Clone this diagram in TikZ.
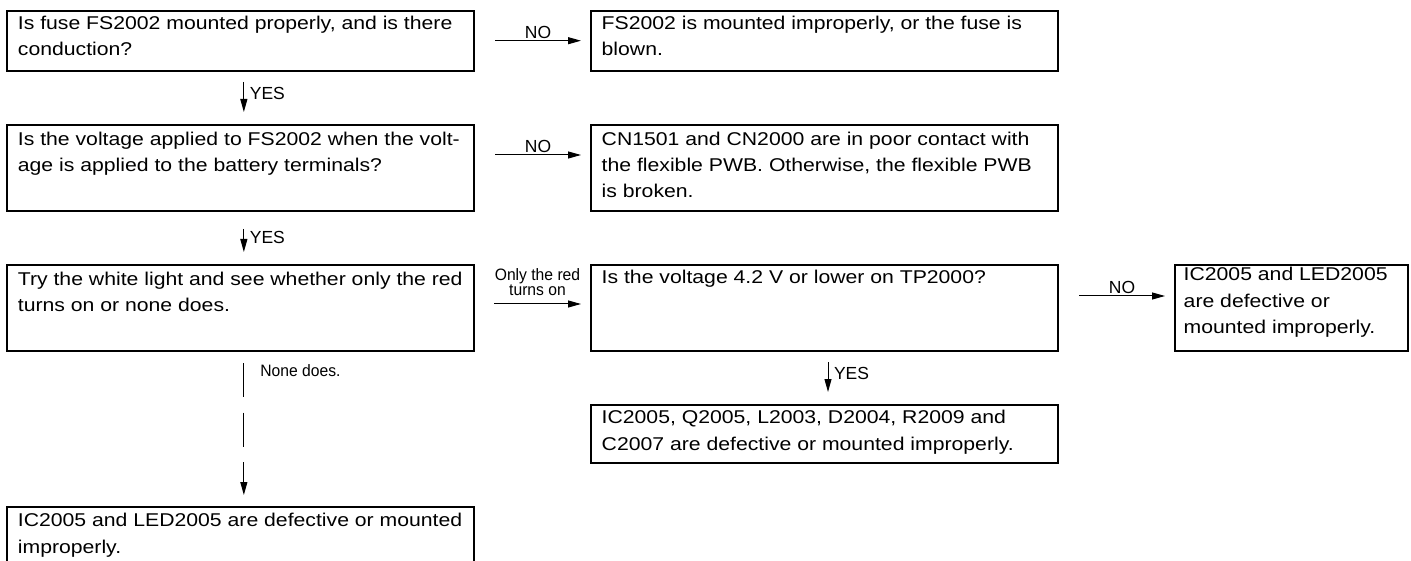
\documentclass[tikz,border=0pt]{standalone}
\usepackage{fontspec}
\setmainfont{Liberation Sans}[FakeStretch=1.146]
\newfontfamily\lblfont{Liberation Sans}
\newfontfamily\narrowfont{Liberation Sans}[FakeStretch=0.95]
\usetikzlibrary{calc,arrows.meta}

\tikzset{
  flowbox/.style={draw, line width=1.8pt, inner sep=0pt, outer sep=0pt},
  boxtext/.style={anchor=north west, inner sep=0pt, align=left,
    font=\fontsize{18.5}{26.3}\selectfont},
  conn/.style={line width=1pt, -{Triangle[length=13pt,width=7pt]}},
  yesno/.style={font=\lblfont\fontsize{17.5}{20}\selectfont, inner sep=0pt},
  smalllbl/.style={font=\narrowfont\fontsize{16.5}{15}\selectfont, inner sep=0pt, align=center},
}

% name, left, top, right, bottom, text inset x, first baseline, text
\newcommand\flowboxnode[8]{%
  \node[flowbox, minimum width={#4-#2}, minimum height={#5-#3}] (#1) at ({(#2+#4)/2},{(#3+#5)/2}) {};
  \node[boxtext] at ($(#1.north west)+(#6,0)$) {\rule{0pt}{#7pt}#8};
}

\begin{document}
\begin{tikzpicture}[x=1pt,y=-1pt]
\useasboundingbox (0,0) rectangle (1411,561);
\clip (0,0) rectangle (1411,561);

\flowboxnode{b1}{6.7}{10.7}{474}{70.7}{11}{18.8}{Is fuse FS2002 mounted properly, and is there\\conduction?}
\flowboxnode{b2}{591}{10.7}{1058}{70.7}{10.5}{18.8}{FS2002 is mounted improperly, or the fuse is\\blown.}
\flowboxnode{b3}{6.7}{125}{474}{211}{11}{20}{Is the voltage applied to FS2002 when the volt-\\age is applied to the battery terminals?}
\flowboxnode{b4}{591}{125}{1058}{211}{10.5}{20}{CN1501 and CN2000 are in poor contact with\\the flexible PWB. Otherwise, the flexible PWB\\is broken.}
\flowboxnode{b5}{6.7}{265}{474}{351}{11}{20}{Try the white light and see whether only the red\\turns on or none does.}
\flowboxnode{b6}{591}{265}{1058}{351}{10.5}{18.5}{Is the voltage 4.2 V or lower on TP2000?}
\flowboxnode{b7}{1175}{265}{1408}{351}{8.5}{15.5}{IC2005 and LED2005\\are defective or\\mounted improperly.}
\flowboxnode{b8}{591}{405}{1058}{463}{10.5}{18.5}{IC2005, Q2005, L2003, D2004, R2009 and\\C2007 are defective or mounted improperly.}
\flowboxnode{b9}{6.7}{507}{474}{580}{11}{19.7}{IC2005 and LED2005 are defective or mounted\\improperly.}

% NO connectors
\draw[conn] ($(b1.north east)+(21,30)$) -- ($(b2.north west)+(-10,30)$)
  node[midway, anchor=base, yesno, yshift=2.4pt] {NO};
\draw[conn] ($(b3.north east)+(21,30)$) -- ($(b4.north west)+(-10,30)$)
  node[midway, anchor=base, yesno, yshift=2.4pt] {NO};
\draw[conn] ($(b6.north east)+(21,31)$) -- ($(b7.north west)+(-10,31)$)
  node[midway, anchor=base, yesno, yshift=2.4pt] {NO};
\draw[conn] ($(b5.north east)+(20,39)$) -- ($(b6.north west)+(-10,39)$)
  node[midway, anchor=south, smalllbl, yshift=8pt] {Only the red\\turns on};

% YES connectors
\draw[conn] ($(b1.south)+(3.5,11.3)$) -- ($(b3.north)+(3.5,-13)$)
  node[midway, anchor=west, yesno, xshift=5.5pt, yshift=3.5pt] {YES};
\draw[conn] ($(b3.south)+(3.5,18)$) -- ($(b5.north)+(3.5,-13)$)
  node[midway, anchor=west, yesno, xshift=5.5pt, yshift=3.5pt] {YES};
\draw[conn] ($(b6.south)+(3.5,11)$) -- ($(b8.north)+(3.5,-13)$)
  node[midway, anchor=west, yesno, xshift=5.5pt, yshift=3.5pt] {YES};

% None does
\draw[conn, dash pattern=on 34pt off 15.5pt] ($(b5.south)+(3.5,12)$) -- ($(b9.north)+(3.5,-12)$)
  node[pos=0, anchor=base west, smalllbl, xshift=16pt, yshift=-13.7pt] {None does.};
\end{tikzpicture}
\end{document}
